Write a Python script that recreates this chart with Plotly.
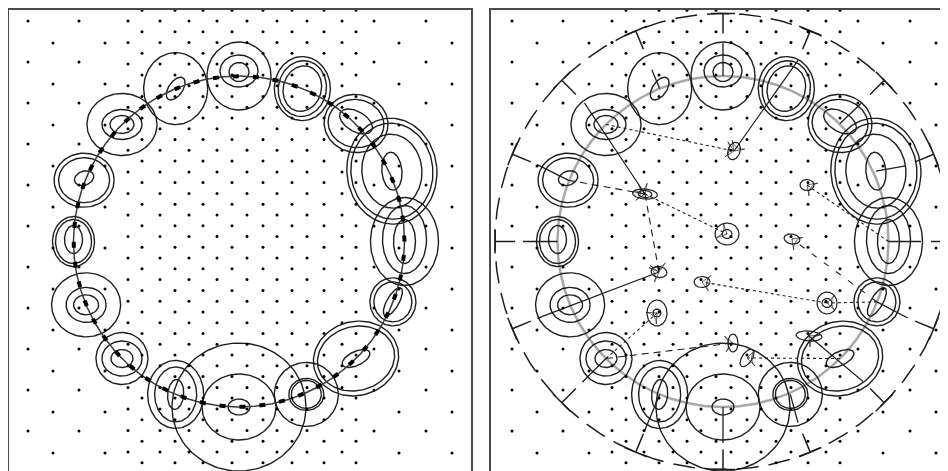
import numpy as np
import plotly.graph_objects as go

# ---------------- data (units: panel coordinates, y up) ----------------
RING_CX, RING_CY, RING_R = 232.0, 232.5, 165.5
OUTER_R = 228.0

# 16 components placed on the ring (A..P)
blob_angle = [112.5, 90.0, 67.5, 45.0, 22.5, 0.0, -22.5, -45.0,
              -67.5, -90.0, -112.5, -135.0, -157.5, 180.0, 157.5, 135.0]
blob_dx = [0, 0, 0, 0, 0, 0, 1, 0, 4, 0, 0, 0, 0, 0, -2, 0]
blob_dy = [0, 0, 0, 1, 7, 0, 3, 0, 0, 0, 0, 0, 0, 0, -2, 0]
blob_rx = [[32, 13], [32, 19, 10], [28, 24, 19], [32, 28, 18], [45, 41, 30, 10],
           [34, 22, 11], [23, 19, 16], [43, 39, 15], [32, 17.5, 15], [67, 37, 11],
           [28, 21, 8], [26, 20, 11], [34.5, 20, 12.5], [21, 18, 9], [30, 25.5, 10],
           [35, 20, 12]]
blob_ry = [[36, 7], [34, 16, 9.5], [32, 28, 23], [29, 24, 10], [53, 48, 37, 19],
           [44, 34, 22], [24, 20, 6], [37, 32, 7], [32, 16, 14], [64, 33, 8],
           [34, 27.5, 15], [26, 17.5, 9], [32, 17.5, 10], [25, 22, 14], [27, 22.5, 7],
           [31, 15, 9]]
blob_tilt = [[0, 55], [0, 0, 0], [0, -10, -15], [-10, -10, -30], [5, 5, 5, 5],
             [0, 0, 0], [0, 0, 60], [15, 15, 25], [0, 0, 0], [0, 0, 0],
             [0, 0, -5], [0, 0, 0], [0, 0, 0], [0, 0, 0], [0, 0, 20], [0, 0, 0]]
blob_cdy = [[0, 0], [0, 5, 4], [0, 0, 0], [0, 0, 2], [0, 0, 0, 0],
            [0, 2, 0], [0, 0, 0], [0, 0, 0], [0, 0, 0], [0, 0, 0],
            [0, 0, 0], [0, 0, 0], [0, 0, 0], [0, 0, 2], [0, 0, 2], [0, 0, 0]]

# inner (moved) components in the right panel
inner_x = [243, 154, 236, 168, 336, 211, 316, 301, 256, 242, 166, 318]
inner_y = [323, 280, 240, 202, 171, 192, 289, 235, 116, 131, 161, 138]
inner_rx = [[6], [12.5, 7], [12, 5], [8], [10, 5], [8], [7], [8], [10], [5], [10, 4], [13]]
inner_ry = [[9], [5, 3.5], [11, 4.5], [5.5], [11, 4.5], [5.5], [5.5], [5], [5], [9], [13, 4], [5]]
inner_tilt = [[-20], [-5, -5], [0, 0], [-10], [0, 0], [0], [0], [-10], [56], [0], [0, 0], [-5]]

# spokes from each ring component outwards (radius where the spoke ends)
spoke_r_out = [186, 198.5, 196, 195.5, 197.6, 198, 200, 198,
               196, 201.5, 206, 199, 201, 200, 201, 196]
# spoke continues (solid, arrowed) to an inner component: index or -1
spoke_target = [-1, -1, 0, -1, -1, -1, -1, 11, -1, -1, -1, -1, 3, -1, -1, 1]

# dashed transitions: ("b", k) ring component, ("i", k) inner component
arrow_src = [("b", 15), ("b", 14), ("i", 1), ("i", 1), ("b", 6), ("i", 4),
             ("b", 5), ("b", 6), ("b", 7), ("b", 11), ("b", 11)]
arrow_dst = [0, 1, 2, 3, 4, 5, 6, 7, 8, 9, 10]
arrow_kind = ["short", "long", "short", "long", "short", "short",
              "short", "sparse", "short", "long", "short"]

# sample-point lattice
dense_cols_x = [121, 135, 153, 168, 182, 196, 210, 225, 240, 256, 270, 285, 300, 317, 335, 349]
dense_rows_p = [453, 431.4, 409.9, 388.3, 366.8, 345.2, 323.7, 302.1, 280.6, 259, 237.5,
                215.9, 194.4, 172.8, 151.3, 129.7, 108.2, 86.6, 65.1, 43.5, 22]
dense_rows_q = [463.8, 442.2, 420.7, 399.1, 377.6, 356, 334.5, 312.9, 291.4, 269.8, 248.3,
                226.7, 205.2, 183.6, 162.1, 140.5, 119, 97.4, 75.9, 54.3, 32.8, 11.2]
sparse_cols_a = [21, 72, 367, 419]
sparse_rows_a = [453, 412, 371, 330, 289, 248, 207, 166, 125, 84, 43]
sparse_cols_b = [46, 98, 392, 445]
sparse_rows_b = [431, 390, 349, 308, 267, 226, 185, 144, 103, 62, 21]

# ---------------- helpers ----------------
def ellipse(cx, cy, rx, ry, tilt):
    t = np.linspace(0, 2 * np.pi, 121)
    a = np.deg2rad(tilt)
    x = cx + rx * np.cos(t) * np.cos(a) - ry * np.sin(t) * np.sin(a)
    y = cy + rx * np.cos(t) * np.sin(a) + ry * np.sin(t) * np.cos(a)
    return list(x) + [None], list(y) + [None]


def ring_point(ang, r):
    a = np.deg2rad(ang)
    return RING_CX + r * np.cos(a), RING_CY + r * np.sin(a)


blob_cx, blob_cy = [], []
for k, ang in enumerate(blob_angle):
    px, py = ring_point(ang, RING_R)
    blob_cx.append(px + blob_dx[k])
    blob_cy.append(py + blob_dy[k])

ex, ey = [], []
for k in range(len(blob_angle)):
    for rx, ry, tl, cdy in zip(blob_rx[k], blob_ry[k], blob_tilt[k], blob_cdy[k]):
        x, y = ellipse(blob_cx[k], blob_cy[k] + cdy, rx, ry, tl)
        ex += x
        ey += y

ix, iy = [], []
for k in range(len(inner_x)):
    for rx, ry, tl in zip(inner_rx[k], inner_ry[k], inner_tilt[k]):
        x, y = ellipse(inner_x[k], inner_y[k], rx, ry, tl)
        ix += x
        iy += y

th = np.linspace(0, 2 * np.pi, 721)
ring_x = list(RING_CX + RING_R * np.cos(th))
ring_y = list(RING_CY + RING_R * np.sin(th))
outer_x = list(RING_CX + OUTER_R * np.cos(th))
outer_y = list(RING_CY + OUTER_R * np.sin(th))

dots_x, dots_y = [], []
for i, cx in enumerate(dense_cols_x):
    rows = dense_rows_p if i % 2 == 0 else dense_rows_q
    dots_x += [cx] * len(rows)
    dots_y += rows
for cx in sparse_cols_a:
    dots_x += [cx] * len(sparse_rows_a)
    dots_y += sparse_rows_a
for cx in sparse_cols_b:
    dots_x += [cx] * len(sparse_rows_b)
    dots_y += sparse_rows_b

INK = "#1e1e1e"
fig = go.Figure()

# ---------------- left panel ----------------
fig.add_trace(go.Scatter(x=ex, y=ey, mode="lines", line=dict(color=INK, width=1.4),
                         xaxis="x", yaxis="y", hoverinfo="skip"))
fig.add_trace(go.Scatter(x=ring_x, y=ring_y, mode="lines", line=dict(color="#3a3a3a", width=1.5),
                         xaxis="x", yaxis="y", hoverinfo="skip"))
fig.add_trace(go.Scatter(x=ring_x, y=ring_y, mode="lines",
                         line=dict(color="black", width=4, dash="6px,14px"),
                         xaxis="x", yaxis="y", hoverinfo="skip"))
fig.add_trace(go.Scatter(x=dots_x, y=dots_y, mode="markers",
                         marker=dict(color="black", size=3), xaxis="x", yaxis="y",
                         hoverinfo="skip"))

# ---------------- right panel ----------------
fig.add_trace(go.Scatter(x=ring_x, y=ring_y, mode="lines", line=dict(color="#a8a8a8", width=2.5),
                         xaxis="x2", yaxis="y2", hoverinfo="skip"))
fig.add_trace(go.Scatter(x=outer_x, y=outer_y, mode="lines",
                         line=dict(color=INK, width=1.5, dash="22px,10px"),
                         xaxis="x2", yaxis="y2", hoverinfo="skip"))

# T-shaped ticks on the outer circle
tx, ty = [], []
for ang in blob_angle:
    a = np.deg2rad(ang)
    ox, oy = ring_point(ang, OUTER_R)
    sx, sy = ring_point(ang, OUTER_R - 20)
    tdx, tdy = -np.sin(a) * 12, np.cos(a) * 12
    tx += [ox - tdx, ox + tdx, None, ox, sx, None]
    ty += [oy - tdy, oy + tdy, None, oy, sy, None]
fig.add_trace(go.Scatter(x=tx, y=ty, mode="lines", line=dict(color=INK, width=1.5),
                         xaxis="x2", yaxis="y2", hoverinfo="skip"))

fig.add_trace(go.Scatter(x=ex, y=ey, mode="lines", line=dict(color=INK, width=1.4),
                         xaxis="x2", yaxis="y2", hoverinfo="skip"))
fig.add_trace(go.Scatter(x=ix, y=iy, mode="lines", line=dict(color=INK, width=1.2),
                         xaxis="x2", yaxis="y2", hoverinfo="skip"))

# spokes
sx_all, sy_all = [], []
for k, ang in enumerate(blob_angle):
    ox, oy = ring_point(ang, spoke_r_out[k])
    if spoke_target[k] < 0:
        sx_all += [ox, blob_cx[k], None]
        sy_all += [oy, blob_cy[k], None]
    else:
        j = spoke_target[k]
        fig.add_trace(go.Scatter(
            x=[ox, inner_x[j]], y=[oy, inner_y[j]], mode="lines+markers",
            line=dict(color=INK, width=1.2),
            marker=dict(symbol=["circle", "arrow-wide-open"], size=[0, 11],
                        angleref="previous", color=INK, line=dict(width=1, color=INK)),
            xaxis="x2", yaxis="y2", hoverinfo="skip"))
fig.add_trace(go.Scatter(x=sx_all, y=sy_all, mode="lines", line=dict(color=INK, width=1.3),
                         xaxis="x2", yaxis="y2", hoverinfo="skip"))

dash_map = {"short": "3px,3px", "long": "7px,5px", "sparse": "6px,9px"}
for (kind, s), d, style in zip(arrow_src, arrow_dst, arrow_kind):
    if kind == "b":
        x0, y0 = blob_cx[s], blob_cy[s]
    else:
        x0, y0 = inner_x[s], inner_y[s]
    fig.add_trace(go.Scatter(
        x=[x0, inner_x[d]], y=[y0, inner_y[d]], mode="lines+markers",
        line=dict(color=INK, width=1.1, dash=dash_map[style]),
        marker=dict(symbol=["circle", "arrow-wide-open"], size=[0, 11],
                    angleref="previous", color=INK, line=dict(width=1, color=INK)),
        xaxis="x2", yaxis="y2", hoverinfo="skip"))

fig.add_trace(go.Scatter(x=dots_x, y=dots_y, mode="markers",
                         marker=dict(color="black", size=3), xaxis="x2", yaxis="y2",
                         hoverinfo="skip"))

# the page body adds an 8px margin, so the figure is 8px smaller than the window
W, H = 940, 463
axis_common = dict(showgrid=False, zeroline=False, showticklabels=False, ticks="",
                   showline=True, linecolor="#4a4a4a", linewidth=1.5)
fig.update_layout(
    width=W, height=H, margin=dict(l=0, r=0, t=0, b=0),
    paper_bgcolor="white", plot_bgcolor="white", showlegend=False,
    xaxis=dict(domain=[0.75 / W, 463 / W], range=[1.75, 464], side="top", anchor="y",
               **axis_common),
    yaxis=dict(domain=[0, 461 / H], range=[3, 464], mirror=True, anchor="x", **axis_common),
    xaxis2=dict(domain=[483 / W, 1], range=[0, 457], side="top", anchor="y2", **axis_common),
    yaxis2=dict(domain=[0, 461 / H], range=[3, 464], anchor="x2", **axis_common),
)
fig.write_html("out.html")
